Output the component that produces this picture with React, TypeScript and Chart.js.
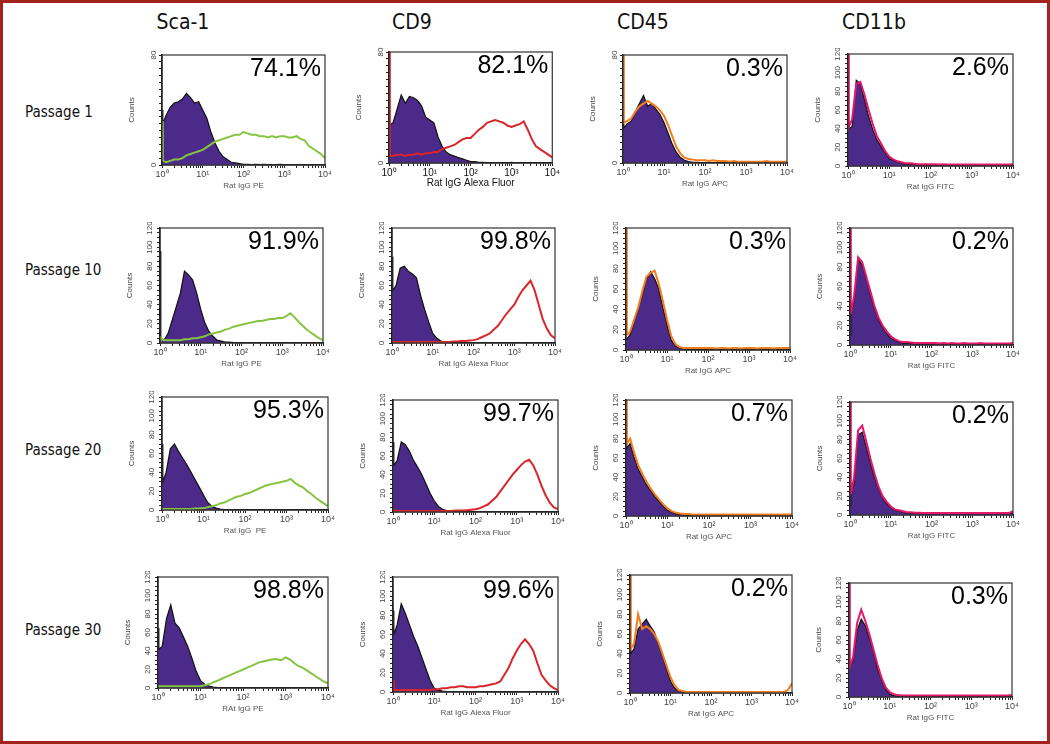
import React, { useEffect, useRef } from 'react';
import { Chart, registerables } from 'chart.js';

Chart.register(...registerables);

// ---- shared axis values ----
const XS = [0, 0.02, 0.1, 0.2, 0.3, 0.4, 0.5, 0.6, 0.7, 0.8, 0.9, 1.0, 1.1, 1.2, 1.3, 1.4, 1.5, 1.6, 1.7, 1.8, 1.9, 2.0, 2.1, 2.2, 2.3, 2.4, 2.5, 2.6, 2.7, 2.8, 2.9, 3.0, 3.1, 3.2, 3.3, 3.4, 3.5, 3.6, 3.7, 3.8, 3.9, 4.0];
const X_TICK_LABELS = ['10⁰', '10¹', '10²', '10³', '10⁴'];
const Y_TICKS_80 = [0, 5, 10, 15, 20, 25, 30, 35, 40, 45, 50, 55, 60, 65, 70, 75, 80];
const Y_LABELS_80 = [0, 80];
const Y_TICKS_120 = [0, 5, 10, 15, 20, 25, 30, 35, 40, 45, 50, 55, 60, 65, 70, 75, 80, 85, 90, 95, 100, 105, 110, 115, 120];
const Y_LABELS_120 = [0, 20, 40, 60, 80, 100, 120];

const COLUMNS = ['Sca-1', 'CD9', 'CD45', 'CD11b'];
const ROWS = ['Passage 1', 'Passage 10', 'Passage 20', 'Passage 30'];
const PERCENTS = [
  ['74.1%', '82.1%', '0.3%', '2.6%'],
  ['91.9%', '99.8%', '0.3%', '0.2%'],
  ['95.3%', '99.7%', '0.7%', '0.2%'],
  ['98.8%', '99.6%', '0.2%', '0.3%'],
];
const X_TITLES = [
  ['Rat IgG PE', 'Rat IgG Alexa Fluor', 'Rat IgG APC', 'Rat IgG FITC'],
  ['Rat IgG PE', 'Rat IgG Alexa Fluor', 'Rat IgG APC', 'Rat IgG FITC'],
  ['Rat IgG  PE', 'Rat IgG Alexa Fluor', 'Rat IgG APC', 'Rat IgG FITC'],
  ['RAt IgG PE', 'Rat IgG Alexa Fluor', 'Rat IgG APC', 'Rat IgG FITC'],
];
const Y_MAX = [
  [80, 80, 80, 120],
  [120, 120, 120, 120],
  [120, 120, 120, 120],
  [120, 120, 120, 120],
];

// ---- histogram counts (isotype control = ISO, marker = POS) ----
// Passage 1
const SCA1_P1_ISO = [40, 30, 36, 42, 45, 46, 48, 52, 49, 45, 46, 40, 34, 24, 16, 10, 6, 4, 2, 1.5, 1, 0.5, 0.5, 0.3, 0.5, 0.3, 0.5, 0.3, 0.2, 0.3, 0.5, 0.3, 0.2, 0.3, 0.2, 0.2, 0.3, 0.2, 0.2, 0.2, 0.2, 0.2];
const SCA1_P1_POS = [32, 3, 2, 3, 4, 4, 5, 7, 8, 9, 10, 11, 13, 15, 17, 18, 19, 20, 21, 22, 22, 24, 23, 22, 22, 21, 21, 20, 21, 20, 21, 21, 20, 20, 21, 19, 18, 14, 12, 10, 8, 5];
const CD9_P1_ISO = [27, 27, 29, 39, 49, 43, 48, 47, 45, 41, 33, 31, 29, 19, 12, 8, 6, 5, 4, 3, 2, 1, 1, 0.5, 0.5, 0.3, 0.3, 0.3, 0.3, 0.2, 0.2, 0.5, 0.2, 0.2, 0.2, 0.2, 0.2, 0.2, 0.2, 0.2, 0.2, 0.2];
const CD9_P1_POS = [80, 5, 5, 6, 6, 5, 6, 6, 7, 6, 7, 7, 8, 8, 10, 11, 12, 13, 15, 17, 18, 18, 21, 24, 26, 29, 30, 31, 30, 29, 27, 26, 27, 28, 30, 24, 17, 12, 10, 8, 6, 4];
const CD45_P1_ISO = [30, 26, 29, 31, 38, 44, 50, 42, 44, 40, 36, 30, 22, 14, 8, 4, 2, 1, 0.5, 0.5, 0.3, 0.3, 0.2, 0.2, 0.2, 0.2, 0.2, 0.2, 0.2, 0.2, 0.2, 0.2, 0.2, 0.2, 0.2, 0.2, 0.2, 0.2, 0.2, 0.2, 0.2, 0.2];
const CD45_P1_POS = [80, 30, 31, 33, 38, 42, 44, 46, 44, 42, 39, 35, 28, 20, 12, 7, 4, 3, 2.5, 2, 2, 2, 1.5, 2, 1.5, 1.5, 1.5, 1, 1.5, 1, 1, 1, 1, 1, 1, 1, 1.5, 1, 1, 1, 1, 1];
const CD11B_P1_ISO = [40, 40, 42, 92, 88, 71, 53, 39, 28, 21, 14, 8, 6, 4, 3, 2, 2, 1.5, 1.5, 1, 1, 1, 1, 1, 1, 1, 1, 1, 1, 1, 1, 1, 1, 1, 1, 1, 1, 1, 1, 1, 1, 1];
const CD11B_P1_POS = [120, 42, 50, 88, 90, 76, 60, 45, 32, 24, 16, 10, 7, 5, 4, 3, 3, 2.5, 2, 2, 2, 2, 2, 1.5, 2, 1.5, 1.5, 1.5, 1.5, 1.5, 1.5, 1.5, 1.5, 1.5, 1.5, 1.5, 1.5, 1.5, 1.5, 1.5, 1.5, 2];
// Passage 10
const SCA1_P10_ISO = [96, 5, 3, 10, 24, 38, 52, 75, 71, 66, 52, 35, 21, 12, 7, 3, 2, 1, 1, 0.5, 0.5, 0.5, 0.3, 0.3, 0.3, 0.3, 0.3, 0.3, 0.3, 0.3, 0.3, 0.3, 0.3, 0.3, 0.3, 0.3, 0.3, 0.3, 0.3, 0.3, 0.3, 0.3];
const SCA1_P10_POS = [7, 5, 3, 3, 3, 3, 3, 4, 4, 5, 5, 6, 7, 9, 10, 11, 12, 14, 15, 17, 18, 19, 20, 21, 22, 23, 23, 24, 25, 25, 26, 26, 28, 31, 27, 22, 18, 14, 11, 8, 5, 3];
const CD9_P10_ISO = [90, 55, 60, 78, 80, 75, 72, 68, 50, 35, 22, 10, 5, 2, 1, 0.5, 0.5, 0.3, 0.3, 0.3, 0.3, 0.3, 0.3, 0.3, 0.3, 0.3, 0.3, 0.3, 0.3, 0.3, 0.3, 0.3, 0.3, 0.3, 0.3, 0.3, 0.3, 0.3, 0.3, 0.3, 0.3, 0.3];
const CD9_P10_POS = [2, 1, 1, 1, 1, 1, 1, 1, 1, 1, 1, 1, 1, 1, 1, 1, 1.5, 1.5, 2, 2, 2.5, 3, 4, 6, 8, 10, 14, 18, 24, 30, 35, 40, 48, 55, 60, 65, 55, 40, 25, 15, 8, 5];
const CD45_P10_ISO = [10, 10, 15, 28, 40, 55, 70, 77, 70, 60, 42, 25, 10, 4, 2, 1, 0.5, 0.5, 0.3, 0.3, 0.3, 0.3, 0.3, 0.3, 0.3, 0.3, 0.3, 0.3, 0.3, 0.3, 0.3, 0.3, 0.3, 0.3, 0.3, 0.3, 0.3, 0.3, 0.3, 0.3, 0.3, 0.3];
const CD45_P10_POS = [120, 15, 18, 30, 42, 58, 72, 76, 78, 65, 48, 30, 14, 6, 3, 2, 2, 2, 2, 2, 2, 2, 2, 1.5, 2, 2, 1.5, 2, 2, 1.5, 2, 2, 2, 1.5, 2, 2, 2, 1.5, 2, 2, 2, 2];
const CD11B_P10_ISO = [10, 30, 45, 88, 82, 68, 52, 38, 26, 18, 12, 7, 5, 3, 2, 2, 1.5, 1, 1, 1, 1, 1, 1, 1, 1, 1, 1, 1, 1, 1, 1, 1, 1, 1, 1, 1, 1, 1, 1, 1, 1, 1];
const CD11B_P10_POS = [120, 32, 50, 90, 85, 70, 55, 40, 28, 20, 14, 9, 6, 4, 3, 3, 2.5, 2, 2, 2, 2, 2, 2, 1.5, 2, 1.5, 2, 1.5, 1.5, 2, 1.5, 1.5, 1.5, 2, 1.5, 1.5, 1.5, 1.5, 1.5, 1.5, 1.5, 2];
// Passage 20
const SCA1_P20_ISO = [70, 30, 40, 65, 70, 62, 55, 48, 40, 32, 24, 16, 8, 4, 2, 1, 0.5, 0.3, 0.3, 0.3, 0.3, 0.3, 0.3, 0.3, 0.3, 0.3, 0.3, 0.3, 0.3, 0.3, 0.3, 0.3, 0.3, 0.3, 0.3, 0.3, 0.3, 0.3, 0.3, 0.3, 0.3, 0.3];
const SCA1_P20_POS = [2, 1, 1, 1, 1, 1, 1, 1, 1, 1.5, 1.5, 2, 3, 4, 5, 7, 8, 10, 12, 14, 15, 17, 18, 20, 22, 24, 26, 27, 28, 29, 30, 31, 33, 29, 26, 24, 20, 17, 13, 10, 7, 4];
const CD9_P20_ISO = [75, 50, 55, 75, 72, 65, 55, 48, 40, 30, 20, 12, 6, 3, 1.5, 1, 0.5, 0.3, 0.3, 0.3, 0.3, 0.3, 0.3, 0.3, 0.3, 0.3, 0.3, 0.3, 0.3, 0.3, 0.3, 0.3, 0.3, 0.3, 0.3, 0.3, 0.3, 0.3, 0.3, 0.3, 0.3, 0.3];
const CD9_P20_POS = [3, 1, 1, 1, 1, 1, 1, 1, 1, 1, 1, 1, 1, 1, 1, 1, 1.5, 1.5, 1.5, 2, 2.5, 3, 4, 6, 8, 12, 16, 22, 28, 34, 40, 45, 50, 54, 56, 50, 40, 28, 18, 10, 5, 3];
const CD45_P20_ISO = [80, 70, 75, 60, 48, 40, 32, 26, 20, 15, 10, 6, 4, 2.5, 1.5, 1, 0.5, 0.3, 0.3, 0.3, 0.3, 0.3, 0.3, 0.3, 0.3, 0.3, 0.3, 0.3, 0.3, 0.3, 0.3, 0.3, 0.3, 0.3, 0.3, 0.3, 0.3, 0.3, 0.3, 0.3, 0.3, 0.3];
const CD45_P20_POS = [120, 75, 80, 65, 52, 43, 35, 28, 22, 17, 12, 8, 5, 3.5, 2.5, 2, 2, 1.5, 1.5, 1.5, 1.5, 1.5, 1.5, 1.5, 1.5, 1.5, 1.5, 1.5, 1.5, 1.5, 1.5, 1.5, 1.5, 1.5, 1.5, 1.5, 1.5, 1.5, 1.5, 1.5, 1.5, 1.5];
const CD11B_P20_ISO = [10, 20, 35, 85, 88, 72, 55, 40, 28, 18, 12, 8, 5, 4, 3, 2, 2, 2, 1.5, 1.5, 1.5, 1.5, 1.5, 1.5, 1.5, 1.5, 1.5, 1.5, 1.5, 1.5, 1.5, 1.5, 1.5, 1.5, 1.5, 1.5, 1.5, 1.5, 1.5, 1.5, 1.5, 3];
const CD11B_P20_POS = [120, 22, 40, 90, 95, 78, 60, 44, 30, 20, 14, 9, 6, 5, 4, 3, 3, 2.5, 2.5, 2, 2, 2, 2, 2, 2, 2, 2, 2, 2, 2, 2, 2, 2, 2, 2, 2, 2, 2, 2, 2, 2, 4];
// Passage 30
const SCA1_P30_ISO = [65, 42, 45, 75, 90, 70, 65, 55, 45, 32, 18, 8, 4, 2, 1, 0.5, 0.5, 0.3, 0.3, 0.3, 0.3, 0.3, 0.3, 0.3, 0.3, 0.3, 0.3, 0.3, 0.3, 0.3, 0.3, 0.3, 0.3, 0.3, 0.3, 0.3, 0.3, 0.3, 0.3, 0.3, 0.3, 0.3];
const SCA1_P30_POS = [3, 2, 2, 2, 2, 2, 2, 2, 2, 2, 2, 2, 3, 4, 6, 8, 10, 12, 14, 16, 18, 20, 22, 24, 26, 28, 29, 30, 31, 31, 30, 33, 31, 27, 24, 22, 19, 16, 13, 10, 7, 5];
const CD9_P30_ISO = [85, 60, 70, 92, 82, 70, 58, 48, 36, 24, 12, 4, 2, 1, 0.5, 0.3, 0.3, 0.3, 0.3, 0.3, 0.3, 0.3, 0.3, 0.3, 0.3, 0.3, 0.3, 0.3, 0.3, 0.3, 0.3, 0.3, 0.3, 0.3, 0.3, 0.3, 0.3, 0.3, 0.3, 0.3, 0.3, 0.3];
const CD9_P30_POS = [12, 2, 2, 2, 2, 2, 2, 2, 2, 2, 2, 3, 3, 4, 4, 5, 5, 6, 6, 5, 5, 5, 6, 6, 7, 8, 9, 11, 18, 25, 35, 43, 50, 55, 50, 43, 30, 18, 12, 7, 4, 2];
const CD45_P30_ISO = [45, 40, 45, 65, 70, 75, 68, 62, 50, 38, 25, 12, 5, 2, 1, 0.5, 0.3, 0.3, 0.3, 0.3, 0.3, 0.3, 0.3, 0.3, 0.3, 0.3, 0.3, 0.3, 0.3, 0.3, 0.3, 0.3, 0.3, 0.3, 0.3, 0.3, 0.3, 0.3, 0.3, 0.3, 0.3, 0.3];
const CD45_P30_POS = [120, 45, 50, 80, 65, 68, 65, 60, 52, 40, 28, 16, 8, 3, 2, 1, 1, 1, 1, 1, 1, 1, 1, 1, 1, 1, 1, 1, 1, 1, 1, 1, 1, 1, 1, 1, 1, 1, 1, 1, 3, 10];
const CD11B_P30_ISO = [30, 30, 38, 70, 82, 75, 62, 48, 30, 18, 8, 3, 1.5, 1, 1, 1, 1, 1, 1, 1, 1, 1, 1, 1, 1, 1, 1, 1, 1, 1, 1, 1, 1, 1, 1, 1, 1, 1, 1, 1, 1, 1];
const CD11B_P30_POS = [120, 32, 42, 78, 92, 80, 66, 50, 34, 20, 10, 5, 3, 2, 1.5, 1.5, 1.5, 1.5, 1.5, 1.5, 1.5, 1.5, 1.5, 1.5, 1.5, 1.5, 1.5, 1.5, 1.5, 1.5, 1.5, 1.5, 1.5, 1.5, 1.5, 1.5, 1.5, 1.5, 1.5, 1.5, 1.5, 2];

const ISO = [
  [SCA1_P1_ISO, CD9_P1_ISO, CD45_P1_ISO, CD11B_P1_ISO],
  [SCA1_P10_ISO, CD9_P10_ISO, CD45_P10_ISO, CD11B_P10_ISO],
  [SCA1_P20_ISO, CD9_P20_ISO, CD45_P20_ISO, CD11B_P20_ISO],
  [SCA1_P30_ISO, CD9_P30_ISO, CD45_P30_ISO, CD11B_P30_ISO],
];
const POS = [
  [SCA1_P1_POS, CD9_P1_POS, CD45_P1_POS, CD11B_P1_POS],
  [SCA1_P10_POS, CD9_P10_POS, CD45_P10_POS, CD11B_P10_POS],
  [SCA1_P20_POS, CD9_P20_POS, CD45_P20_POS, CD11B_P20_POS],
  [SCA1_P30_POS, CD9_P30_POS, CD45_P30_POS, CD11B_P30_POS],
];

// ---- layout & style (not data) ----
const COL_COLORS = ['#86c440', '#d8262a', '#f27c1e', '#e6186a'];
const ISO_FILL = '#4b2a8a';
// plot area rectangles [left, top, right, bottom] in page pixels
const RECTS = [
  [[162, 55, 325, 165], [389, 52, 553, 163], [623, 55, 787, 163], [848, 54, 1013, 166]],
  [[160, 228, 323, 343], [392, 228, 555, 343], [626, 228, 790, 350], [850, 228, 1013, 345]],
  [[162, 397, 328, 510], [393, 400, 558, 512], [626, 400, 792, 516], [850, 402, 1013, 515]],
  [[158, 577, 328, 688], [393, 577, 558, 692], [630, 575, 792, 693], [849, 583, 1012, 697]],
];
const HEADER_X = [183, 412, 643, 874];
const ROW_Y = [112, 270, 450, 630];
const Y_AXIS_W = 40;
const X_AXIS_H = 28;
const PAD_TOP = 6;
const PAD_RIGHT = 8;

function Panel({ r, c }: { r: number; c: number }) {
  const ref = useRef<HTMLCanvasElement>(null);
  const [L, T, R, B] = RECTS[r][c];
  const W = R - L + Y_AXIS_W + PAD_RIGHT;
  const H = B - T + PAD_TOP + X_AXIS_H;

  useEffect(() => {
    const yMax = Y_MAX[r][c];
    const yTicks = yMax === 80 ? Y_TICKS_80 : Y_TICKS_120;
    const yLabels = yMax === 80 ? Y_LABELS_80 : Y_LABELS_120;
    const big = r === 0 && c === 1;
    const xTicks: number[] = [];
    for (let d = 0; d < 4; d++) {
      for (let k = 1; k <= 9; k++) xTicks.push(d + Math.log10(k));
    }
    xTicks.push(4);
    const pct = PERCENTS[r][c];
    const frame = {
      id: 'frame' + r + c,
      afterDatasetsDraw(chart: any) {
        const { ctx, chartArea: a } = chart;
        ctx.save();
        ctx.strokeStyle = '#333';
        ctx.lineWidth = 1.2;
        ctx.strokeRect(a.left, a.top, a.right - a.left, a.bottom - a.top);
        ctx.fillStyle = '#000';
        ctx.font = '25px "Liberation Sans", Arial, sans-serif';
        ctx.textAlign = 'right';
        ctx.textBaseline = 'top';
        ctx.fillText(pct, a.right - 4, a.top + 2);
        ctx.restore();
      },
    };
    const iso = ISO[r][c];
    const pos = POS[r][c];
    const chart = new Chart(ref.current as HTMLCanvasElement, {
      type: 'line',
      data: {
        datasets: [
          {
            data: XS.map((x, i) => ({ x, y: pos[i] })),
            borderColor: COL_COLORS[c],
            borderWidth: 2,
            pointRadius: 0,
            fill: false,
            tension: 0,
          },
          {
            data: XS.map((x, i) => ({ x, y: iso[i] })),
            borderColor: '#111',
            borderWidth: 1.2,
            backgroundColor: ISO_FILL,
            pointRadius: 0,
            fill: 'origin',
            tension: 0,
          },
        ],
      },
      options: {
        animation: false,
        responsive: false,
        devicePixelRatio: 1,
        layout: { padding: { top: PAD_TOP, right: PAD_RIGHT, left: 0, bottom: 0 } },
        plugins: { legend: { display: false }, tooltip: { enabled: false } },
        scales: {
          x: {
            type: 'linear',
            min: 0,
            max: 4,
            afterFit: (s: any) => {
              s.height = X_AXIS_H;
            },
            afterBuildTicks: (s: any) => {
              s.ticks = xTicks.map((v) => ({ value: v }));
            },
            ticks: {
              autoSkip: false,
              maxRotation: 0,
              minRotation: 0,
              padding: 1,
              color: big ? '#111' : '#444',
              font: { size: big ? 10 : 9, family: '"Liberation Sans", Arial, sans-serif' },
              callback: (v: any) => {
                const n = Math.round(v);
                return Math.abs(v - n) < 1e-6 ? X_TICK_LABELS[n] : '';
              },
            },
            grid: { drawOnChartArea: false, drawTicks: true, tickLength: 3, tickColor: '#222' },
            border: { color: '#111', width: 1.5 },
            title: {
              display: true,
              text: X_TITLES[r][c],
              color: big ? '#111' : '#555',
              font: { size: big ? 10 : 8, family: '"Liberation Sans", Arial, sans-serif' },
              padding: { top: 0, bottom: 2 },
            },
          },
          y: {
            type: 'linear',
            min: 0,
            max: yMax,
            afterFit: (s: any) => {
              s.width = Y_AXIS_W;
            },
            afterBuildTicks: (s: any) => {
              s.ticks = yTicks.map((v) => ({ value: v }));
            },
            ticks: {
              autoSkip: false,
              minRotation: 90,
              maxRotation: 90,
              crossAlign: 'center',
              padding: 1,
              color: '#444',
              font: { size: 8, family: '"Liberation Sans", Arial, sans-serif' },
              callback: (v: any) => (yLabels.includes(v) ? String(v) : ''),
            },
            grid: { drawOnChartArea: false, drawTicks: true, tickLength: 3, tickColor: '#222' },
            border: { color: '#111', width: 1.5 },
            title: {
              display: true,
              text: 'Counts',
              color: '#444',
              font: { size: 8, family: '"Liberation Sans", Arial, sans-serif' },
              padding: { top: 5, bottom: 0 },
            },
          },
        },
      } as any,
      plugins: [frame],
    });
    return () => chart.destroy();
  }, [r, c]);

  return (
    <canvas
      ref={ref}
      width={W}
      height={H}
      style={{ position: 'absolute', left: L - Y_AXIS_W, top: T - PAD_TOP, width: W, height: H }}
    />
  );
}

export default function App() {
  const font = '"DejaVu Sans Condensed", "DejaVu Sans", Tahoma, sans-serif';
  return (
    <div
      style={{
        position: 'fixed',
        left: 0,
        top: 0,
        width: 1050,
        height: 744,
        boxSizing: 'border-box',
        border: '3px solid #a3221f',
        background: '#fff',
        overflow: 'hidden',
      }}
    >
      <div style={{ position: 'absolute', left: -3, top: -3, width: 1050, height: 744 }}>
        {COLUMNS.map((t, i) => (
          <div
            key={t}
            style={{
              position: 'absolute',
              left: HEADER_X[i] - 60,
              top: 8,
              width: 120,
              textAlign: 'center',
              fontFamily: font,
              fontSize: 21,
              color: '#111',
              lineHeight: '28px',
            }}
          >
            {t}
          </div>
        ))}
        {ROWS.map((t, i) => (
          <div
            key={t}
            style={{
              position: 'absolute',
              left: 25,
              top: ROW_Y[i] - 10,
              fontFamily: font,
              fontSize: 15,
              color: '#111',
              lineHeight: '20px',
              whiteSpace: 'nowrap',
            }}
          >
            {t}
          </div>
        ))}
        {ROWS.map((_, r) => COLUMNS.map((__, c) => <Panel key={r + '-' + c} r={r} c={c} />))}
      </div>
    </div>
  );
}
